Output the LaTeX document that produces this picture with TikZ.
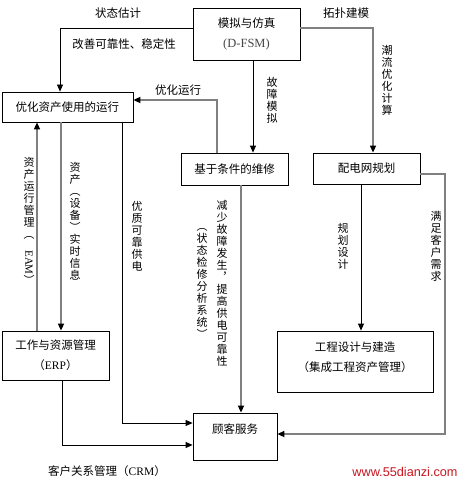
\documentclass[tikz,border=0pt]{standalone}
\usepackage{fontspec}
\setmainfont{Noto Sans CJK SC}
\newfontfamily\lat{Liberation Serif}
\newfontfamily\web{Liberation Sans}
\usepackage{tikz}
\usetikzlibrary{arrows.meta,positioning,calc}
\definecolor{linegray}{RGB}{128,128,128}
\definecolor{markred}{RGB}{200,20,30}
\definecolor{latgray}{RGB}{70,70,70}

\begin{document}
\begin{tikzpicture}[
    x=1pt, y=-1pt,
    box/.style={rectangle, draw, line width=0.8pt, inner sep=0pt, align=center,
        font=\fontsize{11.5}{20}\selectfont},
    boxtext/.style={inner sep=0pt, align=center, font=\fontsize{11.5}{20}\selectfont},
    lbl/.style={inner sep=0pt, font=\fontsize{11.5}{14}\selectfont},
    vlbl/.style={inner sep=0pt, align=center, font=\fontsize{11}{12}\selectfont},
    arr/.style={line width=0.8pt, -{Triangle[length=7pt,width=6pt]}},
    garr/.style={line width=1.6pt, draw=linegray, -{Triangle[length=7pt,width=6pt,color=black]}}
]
\useasboundingbox (0,0) rectangle (466,484);

% boxes
\node[box, minimum width=107, minimum height=52] (dfsm) at (246.5,34)
    {模拟与仿真\\{\lat\color{latgray}\fontsize{12.5}{20}\selectfont (D-FSM)}};
\node[box, minimum width=131, minimum height=30] (opt) at (67.5,107) {优化资产使用的运行};
\node[box, minimum width=107, minimum height=32] (cbm) at (234.5,169) {基于条件的维修};
\node[box, minimum width=107, minimum height=31] (plan) at (366.5,168.5) {配电网规划};
\node[box, minimum width=107, minimum height=49] (erp) at (55.5,355.5)
    {工作与资源管理\\（{\lat ERP}）};
\node[box, minimum width=156, minimum height=61] (eng) at (355,361.5) {};
\node[boxtext] (engtxt) at (355,357) {工程设计与建造\\（集成工程资产管理）};
\node[box, minimum width=84, minimum height=47] (svc) at (235,436.5) {};
\node[boxtext] (svctxt) at (235,429) {顾客服务};

% connectors
\draw[arr] ([yshift=6pt]dfsm.west) -| ([xshift=-7.5pt]opt.north);
\draw[garr] ([yshift=6pt]dfsm.east) -| ([xshift=6.5pt]plan.north);
\draw[arr] ([xshift=6.5pt]dfsm.south) -- ([xshift=6.5pt]dfsm.south |- cbm.north);
\draw[garr] ([xshift=-17.5pt]cbm.north) |- ([yshift=7pt]opt.east);
\draw[garr] ([xshift=-18.5pt]erp.north) -- ([xshift=-18.5pt]erp.north |- opt.south);
\draw[garr] ([xshift=-6.5pt]opt.south) -- ([xshift=-6.5pt]opt.south |- erp.north);
\draw[arr] ([xshift=54.5pt]opt.south) |- ([yshift=13.5pt]svc.west);
\draw[arr] ([xshift=6.5pt]erp.south) |- ([yshift=-8.5pt]svc.west);
\draw[garr] ([xshift=6.5pt]cbm.south) -- ([xshift=6.5pt]cbm.south |- svc.north);
\draw[arr] ([xshift=-5.5pt]plan.south) -- ([xshift=-5.5pt]plan.south |- eng.north);
\coordinate (rt) at (445,434);
\draw[garr] ([yshift=-5.5pt]plan.east) -| (rt) -- ([yshift=2.5pt]svc.east);

% labels
\node[lbl] (est) at (118,13) {状态估计};
\node[lbl] (impr) at (124,44) {改善可靠性、稳定性};
\node[lbl] (topo) at (346,13) {拓扑建模};
\node[lbl] (optrun) at (178,90) {优化运行};
\node[lbl] (crm) at (107,471) {客户关系管理（{\lat CRM}）};
\node[vlbl] (eam) at (29,221) {资\\产\\运\\行\\管\\理\\︵\\\rotatebox{-90}{\lat EAM}\\︶};
\node[vlbl] (rtinfo) at (75,221) {资\\产\\︵\\设\\备\\︶\\实\\时\\信\\息};
\node[vlbl] (qual) at (137,236) {优\\质\\可\\靠\\供\\电};
\node[vlbl] (fault) at (272,100) {故\\障\\模\\拟};
\node[vlbl] (flow) at (387,80) {潮\\流\\优\\化\\计\\算};
\node[vlbl] (less) at (222,283) {减\\少\\故\\障\\发\\生\\︐\\提\\高\\供\\电\\可\\靠\\性};
\node[vlbl] (cbmsys) at (202,283) {︵\\状\\态\\检\\修\\分\\析\\系\\统\\︶};
\node[vlbl] (design) at (343,246) {规\\划\\设\\计};
\node[vlbl] (cust) at (436,246) {满\\足\\客\\户\\需\\求};
\node[inner sep=0pt, font=\web\fontsize{12.7}{14}\selectfont, text=markred] (web) at (405,472)
    {www.55dianzi.com};
\end{tikzpicture}
\end{document}
